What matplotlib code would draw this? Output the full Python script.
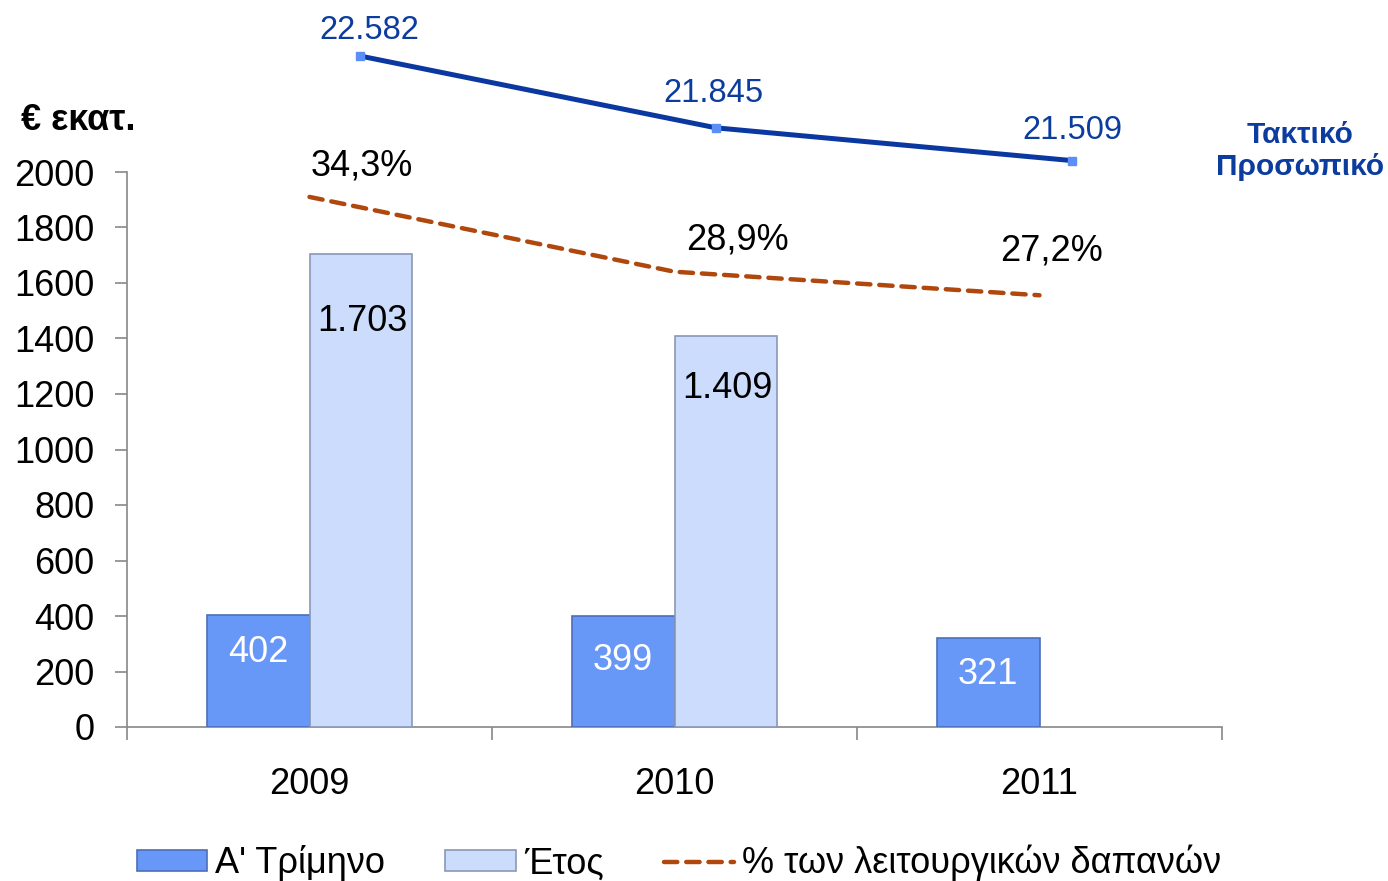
import numpy as np
import matplotlib
matplotlib.use("Agg")
import matplotlib.pyplot as plt
from matplotlib.patches import Patch
from matplotlib.lines import Line2D

plt.rcParams['font.family'] = ['Liberation Sans', 'DejaVu Sans']

years       = ["2009", "2010", "2011"]
quarter     = [402, 399, 321]            # Α' Τρίμηνο
full_year   = [1703, 1409, np.nan]       # Έτος
pct_opex    = [34.3, 28.9, 27.2]         # % των λειτουργικών δαπανών
staff       = [22582, 21845, 21509]      # Τακτικό Προσωπικό

quarter_lbl = ["402", "399", "321"]
year_lbl    = ["1.703", "1.409", ""]
pct_lbl     = ["34,3%", "28,9%", "27,2%"]
staff_lbl   = ["22.582", "21.845", "21.509"]

W, H = 1388, 881
fig = plt.figure(figsize=(W / 100, H / 100), dpi=100)

def px_rect(x0, y0, x1, y1):
    # pixel box (top-left origin) -> figure fraction
    return [x0 / W, 1 - y1 / H, (x1 - x0) / W, (y1 - y0) / H]

ax = fig.add_axes(px_rect(127, 172, 1222, 727))

x = np.arange(len(years))
w = 0.282
dark = "#6797F7"
light = "#CCDCFD"
ax.bar(x - w / 2, quarter, w, color=dark, edgecolor="#4D6FB8", linewidth=1.2, zorder=3)
ax.bar(x + w / 2, full_year, w, color=light, edgecolor="#8A97B5", linewidth=1.2, zorder=3)

q_off = [-26.5, -32, -26]
y_off = [-48, -38, 0]
for xi, v, s, o in zip(x, quarter, quarter_lbl, q_off):
    ax.annotate(s, (xi - w / 2, v), xytext=(0, o), textcoords="offset points",
                ha="center", va="center", color="white", fontsize=26, zorder=5)
for xi, v, s, o in zip(x, full_year, year_lbl, y_off):
    if s:
        ax.annotate(s, (xi + w / 2, v), xytext=(1, o), textcoords="offset points",
                    ha="center", va="center", color="black", fontsize=26, zorder=5)

ax.set_xlim(-0.5, 2.5)
ax.set_ylim(0, 2000)
ax.set_yticks(np.arange(0, 2001, 200))
ax.set_xticks(x)
ax.set_xticklabels(years)
ax.set_xticks([-0.5, 0.5, 1.5, 2.5], minor=True)
ax.tick_params(axis="x", which="major", length=0, pad=29, labelsize=26)
ax.tick_params(axis="x", which="minor", length=9, width=1.2, color="#888888", direction="out")
ax.tick_params(axis="y", length=8.5, width=1.2, color="#888888", pad=15, labelsize=26)
for side in ["top", "right"]:
    ax.spines[side].set_visible(False)
for side in ["left", "bottom"]:
    ax.spines[side].set_color("#888888")
    ax.spines[side].set_linewidth(1.2)

# percentage line, own scale on top of the bars
axp = ax.twinx()
axp.set_ylim(-3.97, 36.1)
axp.axis("off")
red = "#B0480E"
axp.plot(x, pct_opex, color=red, linewidth=3.2, linestyle=(0, (3, 2)),
         dash_capstyle="round", zorder=4, clip_on=False)
pct_off = [(38, 22.5), (45, 22.5), (9, 32)]
for xi, v, s, o in zip(x, pct_opex, pct_lbl, pct_off):
    axp.annotate(s, (xi, v), xytext=o, textcoords="offset points",
                 ha="center", va="center", fontsize=26, color="black")

# staff line, overlay axes above the plot
axs = fig.add_axes(px_rect(182, 40, 1250, 180))
axs.set_xlim(-0.5, 2.5)
axs.set_ylim(21310, 22746)
axs.axis("off")
navy = "#0A38A0"
axs.plot(x, staff, color=navy, linewidth=3.6, zorder=2, clip_on=False)
axs.plot(x, staff, linestyle="none", marker="s", markersize=6,
         color="#5B8EF7", zorder=3, clip_on=False)
staff_off = [(7, 18), (-2, 25), (0, 22)]
for xi, v, s, o in zip(x, staff, staff_lbl, staff_off):
    axs.annotate(s, (xi, v), xytext=o, textcoords="offset points",
                 ha="center", va="center", fontsize=23.5, color="#0B3C9E", clip_on=False)

fig.text(78 / W, 1 - 120 / H, "€ εκατ.", ha="center", va="center",
         fontsize=26, fontweight="bold")
fig.text(1300 / W, 1 - 151 / H, "Τακτικό\nΠροσωπικό", ha="center", va="center",
         fontsize=21.5, fontweight="bold", color="#0B3C9E", linespacing=1.2)

handles = [
    Patch(facecolor=dark, edgecolor="#4D6FB8", linewidth=1.2),
    Patch(facecolor=light, edgecolor="#8A97B5", linewidth=1.2),
    Line2D([0], [0], color=red, linewidth=3.2, linestyle=(0, (3, 2)), dash_capstyle="round"),
]
labels = ["Α' Τρίμηνο", "Έτος", "% των λειτουργικών δαπανών"]
fig.legend(handles, labels, loc="center", bbox_to_anchor=(679 / W, 1 - 863 / H),
           ncol=3, frameon=False, fontsize=26, handlelength=1.95, handleheight=0.5,
           handletextpad=0.22, columnspacing=1.67, borderpad=0.2)

fig.savefig("out.png", dpi=100)
